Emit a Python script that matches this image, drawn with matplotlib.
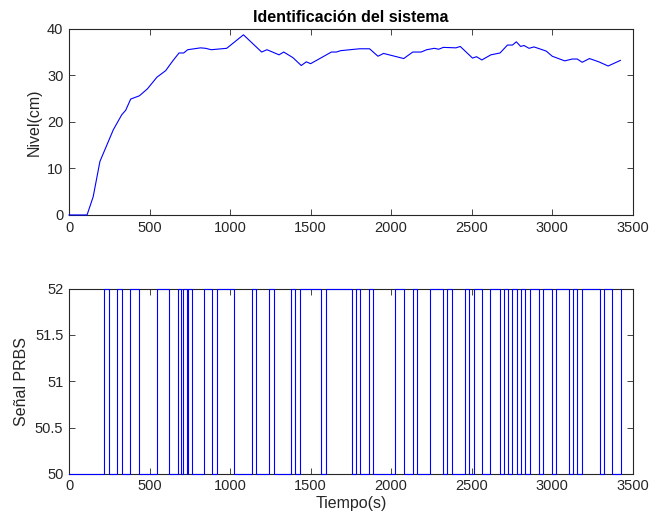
import matplotlib
matplotlib.use("Agg")
import matplotlib.pyplot as plt

plt.rcParams['font.family'] = ['Liberation Sans', 'DejaVu Sans']

# Level curve (time s, level cm)
t_level = [0, 112, 150, 192, 275, 327, 352, 383, 437, 487, 546, 600, 642, 683, 712,
           737, 817, 848, 883, 979, 1083, 1196, 1229, 1304, 1333, 1390, 1442, 1473,
           1500, 1629, 1660, 1687, 1804, 1866, 1918, 1953, 2010, 2078, 2134, 2186,
           2221, 2268, 2295, 2324, 2402, 2429, 2505, 2530, 2563, 2619, 2676, 2722,
           2753, 2777, 2804, 2825, 2856, 2887, 2963, 3000, 3031, 3078, 3124, 3155,
           3186, 3231, 3289, 3347, 3423]
level = [0, 0, 3.9, 11.5, 18.3, 21.5, 22.5, 24.9, 25.6, 27.1, 29.6, 31.0, 33.0, 34.8,
         34.8, 35.5, 35.9, 35.8, 35.5, 35.8, 38.7, 35.0, 35.5, 34.4, 35.0, 33.8, 32.1,
         32.9, 32.5, 35.0, 35.0, 35.3, 35.7, 35.7, 34.1, 34.7, 34.2, 33.6, 35.0, 35.0,
         35.5, 35.8, 35.6, 36.0, 35.9, 36.2, 33.7, 34.0, 33.3, 34.4, 34.8, 36.5, 36.5,
         37.2, 36.2, 36.4, 35.8, 36.1, 35.2, 34.1, 33.7, 33.1, 33.5, 33.5, 32.8, 33.6,
         32.9, 32.0, 33.2]

# PRBS switching instants (signal starts low at 50, toggles at each instant)
prbs_switch = [0, 219, 247, 300, 327, 380, 434, 544, 622, 678, 695, 707, 730, 738, 761,
               839, 888, 919, 1023, 1136, 1162, 1243, 1271, 1378, 1404, 1432, 1566,
               1593, 1756, 1781, 1808, 1861, 1890, 2025, 2078, 2134, 2161, 2242, 2320,
               2349, 2375, 2457, 2482, 2512, 2564, 2615, 2673, 2699, 2725, 2753, 2780,
               2805, 2832, 2861, 2915, 2941, 2998, 3022, 3104, 3131, 3156, 3185, 3294,
               3320, 3373, 3426]
prbs_end = 3428
prbs_low, prbs_high = 50, 52

prbs_vals = [prbs_low if i % 2 == 0 else prbs_high for i in range(len(prbs_switch))]
t_prbs = prbs_switch + [prbs_end]
v_prbs = prbs_vals + [prbs_vals[-1]]

xticks = [0, 500, 1000, 1500, 2000, 2500, 3000, 3500]
yticks_top = [0, 10, 20, 30, 40]
yticks_bot = [50, 50.5, 51, 51.5, 52]

fig = plt.figure(figsize=(6.51, 5.23), dpi=100)
ax1 = fig.add_axes([0.106, 0.589, 0.866, 0.356])
ax2 = fig.add_axes([0.106, 0.094, 0.866, 0.354])

axcol = '#262626'
for ax in (ax1, ax2):
    for s in ax.spines.values():
        s.set_color(axcol)
        s.set_linewidth(0.8)
    ax.tick_params(direction='in', top=True, right=True, length=4, width=0.6,
                   colors=axcol, labelsize=10.5, pad=4)
    ax.set_xlim(0, 3500)
    ax.set_xticks(xticks)

ax1.plot(t_level, level, color='#0000ff', lw=0.8, clip_on=False, zorder=5)
ax1.set_ylim(0, 40)
ax1.set_yticks(yticks_top)
ax1.set_ylabel('Nivel(cm)', fontsize=11.5, color=axcol)
ax1.set_title('Identificación del sistema', fontsize=11.5, fontweight='bold', pad=5)

ax2.step(t_prbs, v_prbs, where='post', color='#0000ff', lw=0.8, clip_on=False, zorder=5)
ax2.set_ylim(50, 52)
ax2.set_yticks(yticks_bot)
ax2.set_yticklabels(['50', '50.5', '51', '51.5', '52'])
ax2.set_ylabel('Señal PRBS', fontsize=11.5, color=axcol)
ax2.set_xlabel('Tiempo(s)', fontsize=11.5, color=axcol, labelpad=2)

fig.savefig('out.png', dpi=100)
